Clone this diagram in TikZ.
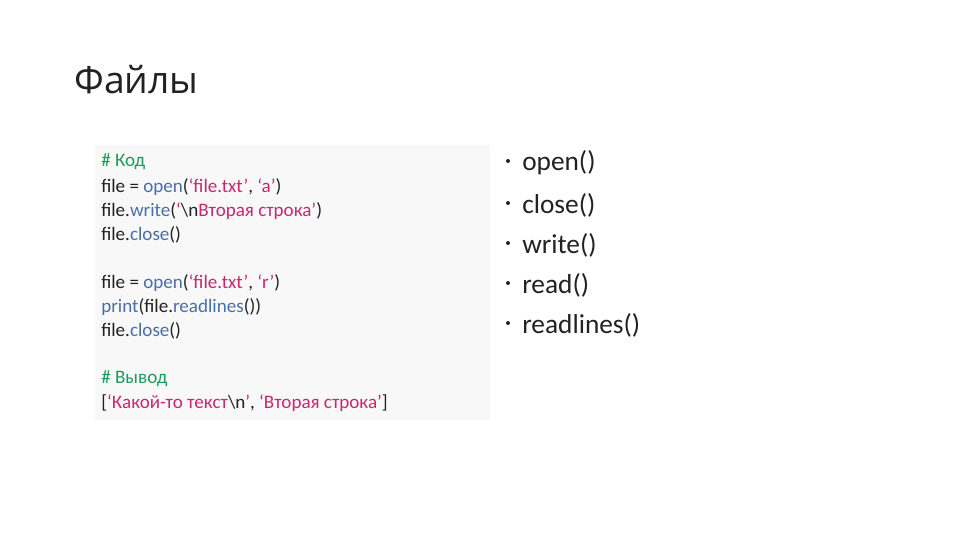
\documentclass[tikz,border=0pt]{standalone}
\usepackage{fontspec}
\setmainfont{Carlito}
\newfontfamily\titlefont{Open Sans}
\definecolor{cgreen}{HTML}{1E9A5C}
\definecolor{cblue}{HTML}{4A6FA8}
\definecolor{cmag}{HTML}{C8286E}
\definecolor{boxbg}{HTML}{F8F8F8}
\definecolor{txt}{HTML}{222222}
\newcommand{\kg}[1]{\textcolor{cgreen}{#1}}
\newcommand{\kb}[1]{\textcolor{cblue}{#1}}
\newcommand{\km}[1]{\textcolor{cmag}{#1}}
\begin{document}
\begin{tikzpicture}[x=0.75pt,y=-0.75pt,
  code/.style={anchor=west,inner sep=0pt,font=\fontsize{14.3pt}{16pt}\selectfont,text=txt},
  bul/.style={anchor=west,inner sep=0pt,font=\fontsize{20.5pt}{24pt}\selectfont,text=txt}]
\useasboundingbox[fill=white] (0,0) rectangle (960,540);
\node[anchor=west,inner sep=0pt,font=\titlefont\fontsize{28pt}{32pt}\selectfont,text=txt] (title) at (74,80) {Файлы};
\fill[boxbg] (95,145) rectangle (490,420);
\node[code] (l1) at (101,162) {\kg{\# Код}};
\node[code] (l2) at (101,187) {file = \kb{open}(\km{‘file.txt’}, \km{‘a’})};
\node[code] (l3) at (101,211) {file.\kb{write}(\km{‘}\textbackslash n\km{Вторая строка’})};
\node[code] (l4) at (101,235) {file.\kb{close}()};
\node[code] (l5) at (101,283) {file = \kb{open}(\km{‘file.txt’}, \km{‘r’})};
\node[code] (l6) at (101,307) {\kb{print}(file.\kb{readlines}())};
\node[code] (l7) at (101,331) {file.\kb{close}()};
\node[code] (l8) at (101,379) {\kg{\# Вывод}};
\node[code] (l9) at (101,403) {[\km{‘Какой-то текст}\textbackslash n\km{’}, \km{‘Вторая строка’}]};
\foreach \t/\y [count=\i] in {open()/163,close()/205,write()/245,read()/285,readlines()/325}{
  \fill[txt] (508,\y-2) circle (2);
  \node[bul] (b\i) at (522,\y) {\t};
}
\end{tikzpicture}
\end{document}
